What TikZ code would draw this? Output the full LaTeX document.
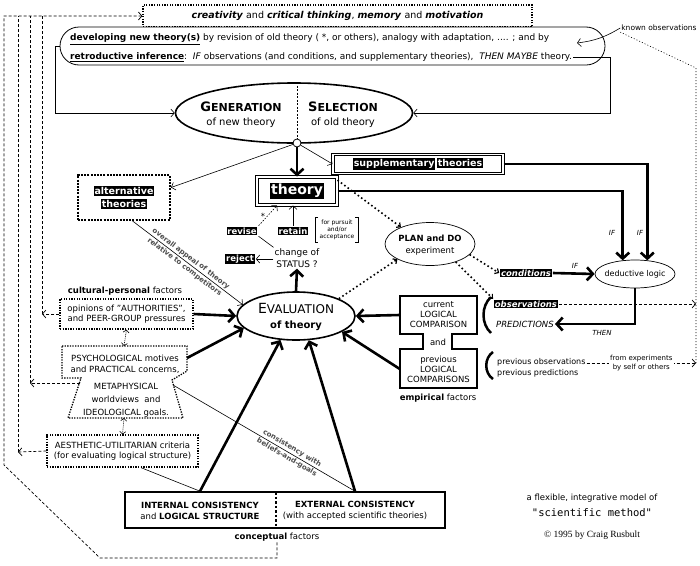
\documentclass[tikz,border=0pt]{standalone}
\usepackage{fontspec}
\setmainfont{DejaVu Sans}
\setmonofont{DejaVu Sans Mono}
\newfontfamily\serifont{Liberation Serif}
\usetikzlibrary{arrows.meta,shapes.geometric,calc}
\newcommand{\outl}[2][1pt]{{\setlength{\fboxsep}{#1}\colorbox{black}{\textcolor{white}{#2}}}}
\begin{document}
\begin{tikzpicture}[x=1pt,y=-1pt,
 every node/.style={inner sep=1pt,font=\fontsize{8.5}{10}\selectfont},
 tarrow/.style={line width=0.6pt,-{Straight Barb[length=3.5pt,width=8pt]}},
 tline/.style={line width=0.6pt},
 karrow/.style={line width=2.6pt,-{Straight Barb[length=6pt,width=13pt]}},
 dotarrow/.style={line width=1.6pt,dash pattern=on 1.6pt off 2.6pt,-{Straight Barb[length=3pt,width=6pt,line width=1.2pt]}},
 ddarrow/.style={line width=0.6pt,dash pattern=on 1pt off 1pt,{Straight Barb[length=2.5pt,width=6pt]}-{Straight Barb[length=2.5pt,width=6pt]}},
 dashl/.style={line width=0.7pt,dash pattern=on 3pt off 2pt},
 dasharrow/.style={dashl,-{Straight Barb[length=3.5pt,width=8pt]}},
 dotl/.style={line width=0.6pt,dash pattern=on 1pt off 2pt},
 dotbox/.style={draw,line width=1.3pt,dash pattern=on 1.3pt off 1.3pt,fill=white},
 altbox/.style={draw,line width=2pt,dash pattern=on 2pt off 1.2pt,fill=white},
 dblbox/.style={draw,double,double distance=1.8pt,line width=1pt,fill=white},
 slant label/.style={sloped,inner sep=1.5pt,font=\fontsize{7}{9}\selectfont\bfseries,text=black!70},
]
\useasboundingbox[fill=white] (0,0) rectangle (700,565);

% ---------- top boxes
\node[dotbox,minimum width=389,minimum height=22,font=\fontsize{9.5}{11}\selectfont] (creat) at (337.5,16)
 {\textbf{\textit{creativity}} and \textbf{\textit{critical thinking}}, \textbf{\textit{memory}} and \textbf{\textit{motivation}}};
\node[draw,fill=white,line width=0.8pt,rounded corners=19,minimum width=545,minimum height=38] (dev) at (332.5,46) {};
\node[anchor=west,font=\fontsize{9}{10}\selectfont] (devA) at (69,39)
 {\underline{\textbf{developing new theory(s)}} by revision of old theory ( *, or others), analogy with adaptation, .... ; and by};
\node[anchor=west,font=\fontsize{9}{10}\selectfont] (devB) at (69,57)
 {\underline{\textbf{retroductive inference}}:\ \ \textit{IF} observations (and conditions, and supplementary theories),\ \ \textit{THEN MAYBE} theory.};
\node[font=\fontsize{7.5}{9}\selectfont] (known) at (659,28) {known observations};

% ---------- generation / selection
\node[draw,ellipse,line width=1.6pt,minimum width=237,minimum height=60,inner sep=0] (gen) at (294,113) {};
\coordinate (hubc) at (297,143);
\draw[line width=0.6pt,dash pattern=on 2pt off 1.5pt] (gen.north -| hubc) -- (hubc);
\node[align=center,font=\fontsize{10}{14}\selectfont] (genT) at (241,115)
 {{\bfseries\fontsize{13}{14}\selectfont G\fontsize{11}{14}\selectfont ENERATION}\\of new theory};
\node[align=center,font=\fontsize{10}{14}\selectfont] (selT) at (343,115)
 {{\bfseries\fontsize{13}{14}\selectfont S\fontsize{11}{14}\selectfont ELECTION}\\of old theory};
\node[draw,circle,fill=white,inner sep=0,minimum size=8,line width=0.8pt] (hub) at (hubc) {};

% ---------- theories
\node[dblbox,minimum width=80,minimum height=28] (theory) at (297,191)
 {\outl[1.5pt]{\fontsize{14}{14}\selectfont\bfseries theory}};
\node[dblbox,minimum width=170,minimum height=19] (supp) at (418,164)
 {\outl[1pt]{\fontsize{9.5}{10}\selectfont\bfseries supplementary}\,\outl[1pt]{\fontsize{9.5}{10}\selectfont\bfseries theories}};
\node[altbox,minimum width=92,minimum height=45,align=center] (alt) at (124,197.5)
 {\outl[1pt]{\fontsize{9.5}{12}\selectfont\bfseries alternative}\\[3pt]\outl[1pt]{\fontsize{9.5}{12}\selectfont\bfseries theories}};

% ---------- status
\node[align=center,font=\fontsize{9}{12}\selectfont] (status) at (297,258) {change of\\STATUS ?};
\node (retain) at (293,231) {\outl[0.8pt]{\fontsize{8.5}{9}\selectfont\bfseries retain}};
\node (revise) at (242,231) {\outl[0.8pt]{\fontsize{8.5}{9}\selectfont\bfseries revise}};
\node (reject) at (240,259) {\outl[0.8pt]{\fontsize{8.5}{9}\selectfont\bfseries reject}};
\node (star) at (263,216) {*};
\node[align=center,font=\fontsize{6}{7}\selectfont] (brk) at (337,229.5) {for pursuit\\and/or\\acceptance};
\draw[tline] (318,217) -- (315,217) -- (315,242) -- (318,242);
\draw[tline] (355,217) -- (358,217) -- (358,242) -- (355,242);

% ---------- plan, deductive, evaluation
\node[draw,ellipse,line width=0.7pt,minimum width=90,minimum height=43,inner sep=0] (plan) at (430,244) {};
\node[align=center,font=\fontsize{8.5}{12}\selectfont] (planT) at (430,245) {\textbf{PLAN and DO}\\experiment};
\node[draw,ellipse,line width=0.7pt,minimum width=80,minimum height=28,inner sep=0] (ded) at (635,274) {};
\node[font=\fontsize{8}{10}\selectfont] (dedT) at (635,274) {deductive logic};
\node[draw,ellipse,line width=1.6pt,minimum width=118,minimum height=48,inner sep=0] (eval) at (296,316) {};
\node[align=center,font=\fontsize{12}{15}\selectfont] (evalT) at (296,317)
 {{\fontsize{14}{15}\selectfont E\fontsize{12}{15}\selectfont VALUATION}\\{\bfseries\fontsize{10}{15}\selectfont of theory}};

% ---------- cultural-personal factors
\node (cult) at (125,291) {\textbf{cultural-personal} factors};
\node[dotbox,minimum width=133,minimum height=30,align=center] (opin) at (126.5,314)
 {opinions of "AUTHORITIES",\\and PEER-GROUP pressures};
\draw[line width=1.3pt,dash pattern=on 1.3pt off 1.3pt,fill=white]
 (62,346) -- (187,346) -- (187,371) -- (172,380) -- (183,418) -- (68,418) -- (81,378) -- (62,378) -- cycle;
\node[align=center,font=\fontsize{8.5}{11}\selectfont] (psyT) at (125,364.5) {PSYCHOLOGICAL motives\\and PRACTICAL concerns,};
\node[align=center,font=\fontsize{8.5}{13}\selectfont] (metaT) at (126,400) {METAPHYSICAL\\worldviews\ \ and\\IDEOLOGICAL goals.};
\coordinate (psyE) at (187,358);
\coordinate (psyN) at (124,346);
\coordinate (psyS) at (124,418);
\coordinate (psyW) at (80,383);
\coordinate (psyR) at (173,385);
\node[dotbox,minimum width=151,minimum height=32,align=center] (aes) at (122.5,451)
 {AESTHETIC-UTILITARIAN criteria\\(for evaluating logical structure)};

% ---------- conceptual factors
\node[draw,line width=1.6pt,minimum width=320,minimum height=36] (bot) at (285,510) {};
\draw[line width=2.5pt,dash pattern=on 2.5pt off 2pt] (276,492) -- (276,528);
\node[align=center,font=\fontsize{8.5}{11}\selectfont] (intT) at (200,511) {\textbf{INTERNAL CONSISTENCY}\\and \textbf{LOGICAL STRUCTURE}};
\node[align=center,font=\fontsize{8.5}{11}\selectfont] (extT) at (355,511) {\textbf{EXTERNAL CONSISTENCY}\\(with accepted scientific theories)};
\node (concept) at (277,537) {\textbf{conceptual} factors};

% ---------- empirical factors
\draw[line width=1.6pt] (400,296) -- (477,296) -- (477,334) -- (452,334) -- (452,349) -- (477,349) -- (477,388)
 -- (400,388) -- (400,349) -- (423,349) -- (423,334) -- (400,334) -- cycle;
\node[minimum width=77,minimum height=38,align=center] (empU) at (438.5,315) {current\\LOGICAL\\COMPARISON};
\node (andT) at (438,342) {and};
\node[minimum width=77,minimum height=39,align=center] (empL) at (438.5,369) {previous\\LOGICAL\\COMPARISONS};
\node (empf) at (438,398) {\textbf{empirical} factors};
\draw[line width=2.5pt] (491,297) .. controls (481,306) and (481,324) .. (491,333);
\draw[line width=2.5pt] (493,352) .. controls (484,358) and (484,373) .. (493,379);
\node[anchor=west] (obs) at (493,304) {\outl[0.7pt]{\fontsize{8.5}{10}\selectfont\bfseries\itshape observations}};
\node[anchor=west] (pred) at (495,324) {\textit{PREDICTIONS}};
\node[anchor=west,align=left,font=\fontsize{8}{11}\selectfont] (prev) at (496,367.5) {previous observations\\previous predictions};
\node (cond) at (526,273) {\outl[0.7pt]{\fontsize{8.5}{10}\selectfont\bfseries\itshape conditions}};

% ---------- labels IF / THEN
\node[font=\fontsize{7}{8}\selectfont\itshape] (if1) at (612,233) {IF};
\node[font=\fontsize{7}{8}\selectfont\itshape] (if2) at (640,233) {IF};
\node[font=\fontsize{7}{8}\selectfont\itshape] (if3) at (575,266) {IF};
\node[font=\fontsize{7}{8}\selectfont\itshape] (then) at (602,333) {THEN};

% ---------- bottom right
\node (flex) at (592,498) {a flexible, integrative model of};
\node[font=\ttfamily\fontsize{10.5}{12}\selectfont] (sci) at (592,513) {"scientific method"};
\node[font=\serifont\fontsize{9.5}{11}\selectfont] (copy) at (592,535) {© 1995 by Craig Rusbult};

% ---------- connectors
\coordinate (cL) at (55,113);
\coordinate (cR) at (610,113);
\draw[tarrow] (dev.west) -| (cL) -- (gen.west);
\draw[tarrow] (devB.east) -| (cR) -- (gen.east);
\draw[karrow] (hub) -- (theory.north);
\draw[tarrow] (hub) -- (alt.12);
\draw[tarrow] (hub) -- (supp.west);
\draw[karrow] (theory.east) -| (ded.132);
\draw[karrow] (supp.east) -| (ded.48);
\draw[karrow] (cond.east) -- (ded.west);
\draw[karrow] (ded.south) |- (pred.east);
\draw[dotarrow] (theory.15) -- (plan.150);
\draw[dotarrow] (eval.22) -- (plan.205);
\draw[dotarrow] (plan.-15) -- (cond.west);
\draw[dotarrow] (plan.-35) -- (obs.north west);
\draw[karrow] (eval.north) -- (status.south);
\draw[tarrow] (status.west |- reject) -- (reject.east);
\draw[tline] (status.north west) -- (revise.south east);
\draw[tarrow,dash pattern=on 1.5pt off 1.5pt] (revise.north east) -- (theory.216);
\draw[tarrow] (retain.north) -- (retain.north |- theory.south);
\draw[tarrow] (alt.-70) --
 node[midway,slant label,above] {overall appeal of theory}
 node[midway,slant label,below] {relative to competitors} (eval.168);
\draw[karrow] (opin.east) -- (eval.west);
\draw[karrow] (psyE) -- (eval.193);
\draw[tline] (psyR) --
 node[pos=0.64,slant label,above] {consistency with}
 node[pos=0.64,slant label,below] {beliefs-and-goals} (bot.north -| extT);
\draw[tline] (aes.-42) -- (bot.north -| intT);
\draw[karrow] (bot.north -| intT) -- (eval.237);
\draw[karrow] (bot.north -| extT) -- (eval.298);
\draw[karrow] (empU.west) -- (eval.east);
\draw[karrow] (empL.west) -- (eval.-19);
\draw[ddarrow] (opin.south) -- (psyN);
\draw[ddarrow] (psyS) -- (aes.north);

% right side dotted / dashed
\coordinate (kTip) at (577,43);
\coordinate (kA) at (696,68);
\coordinate (rObs) at (696,304);
\coordinate (rPrev) at (696,363);
\draw[tarrow] (known.west) to[bend left=12] (kTip);
\draw[dotl] (known.south west) -- (kA) -- (rPrev);
\draw[dasharrow] (obs.east) -- (rObs);
\draw[dasharrow] (prev.east |- rPrev) -- node[midway,fill=white,align=center,font=\fontsize{7}{8.5}\selectfont]
 {from experiments\\by self or others} (rPrev);

% left dashed feedback lines
\coordinate (topL) at (4,16);
\coordinate (vA) at (42,314);
\coordinate (vB) at (30,383);
\coordinate (vC) at (18,452);
\coordinate (bB) at (100,558);
\coordinate (bC) at (4,465);
\draw[dasharrow] (opin.west) -- (vA);
\draw[dashl] (vA) -- (vA |- topL);
\draw[dasharrow] (psyW) -- (vB);
\draw[dashl] (vB) -- (vB |- topL);
\draw[dasharrow] (aes.west) -- (vC);
\draw[dashl] (vC) -- (vC |- topL);
\draw[dasharrow] (concept.south) |- (bB) -- (bC) -- (topL) -- (creat.west |- topL);
\end{tikzpicture}
\end{document}
